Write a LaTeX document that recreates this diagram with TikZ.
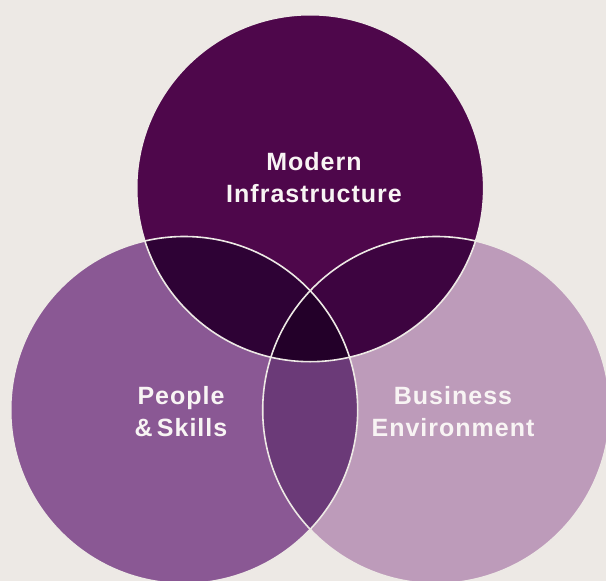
\documentclass[tikz,border=0pt]{standalone}
\usepackage{fontspec}
\setmainfont{Liberation Sans}[LetterSpace=4]
\definecolor{bg}{HTML}{EDE9E5}
\definecolor{ctop}{HTML}{4E074B}
\definecolor{cleft}{HTML}{8A5894}
\definecolor{cright}{HTML}{BD9BBA}
\definecolor{ctl}{HTML}{2E0235}
\definecolor{ctr}{HTML}{3D0440}
\definecolor{clr}{HTML}{6B3A78}
\definecolor{cmid}{HTML}{230029}
\definecolor{txt}{HTML}{F8F4F4}
\tikzset{
  lbl/.style={anchor=base, text=txt, inner sep=0pt, font=\fontsize{25}{32}\selectfont\bfseries},
  rim/.style={draw=bg, line width=1.6pt}
}
\begin{document}
\begin{tikzpicture}[x=1pt,y=-1pt]
\fill[bg] (0,0) rectangle (606,581);
\useasboundingbox (0,0) rectangle (606,581);
\coordinate (T) at (310.2,188.2);
\coordinate (L) at (184.2,410);
\coordinate (R) at (436.2,410);
\def\rr{173.5pt}
\fill[ctop] (T) circle[radius=\rr];
\fill[cleft] (L) circle[radius=\rr];
\fill[cright] (R) circle[radius=\rr];
\begin{scope}
  \clip (T) circle[radius=\rr];
  \fill[ctl] (L) circle[radius=\rr];
  \fill[ctr] (R) circle[radius=\rr];
\end{scope}
\begin{scope}
  \clip (L) circle[radius=\rr];
  \fill[clr] (R) circle[radius=\rr];
  \clip (T) circle[radius=\rr];
  \fill[cmid] (R) circle[radius=\rr];
\end{scope}
\draw[rim] (T) circle[radius=\rr];
\draw[rim] (L) circle[radius=\rr];
\draw[rim] (R) circle[radius=\rr];
\node[lbl] (m1) at (314,170.4) {Modern};
\node[lbl] (m2) at (314,202.3) {Infrastructure};
\node[lbl] (p1) at (181,404.6) {People};
\node[lbl] (p2) at (181,436.5) {\&\,Skills};
\node[lbl] (b1) at (453,404.6) {Business};
\node[lbl] (b2) at (453,436.5) {Environment};
\end{tikzpicture}
\end{document}
